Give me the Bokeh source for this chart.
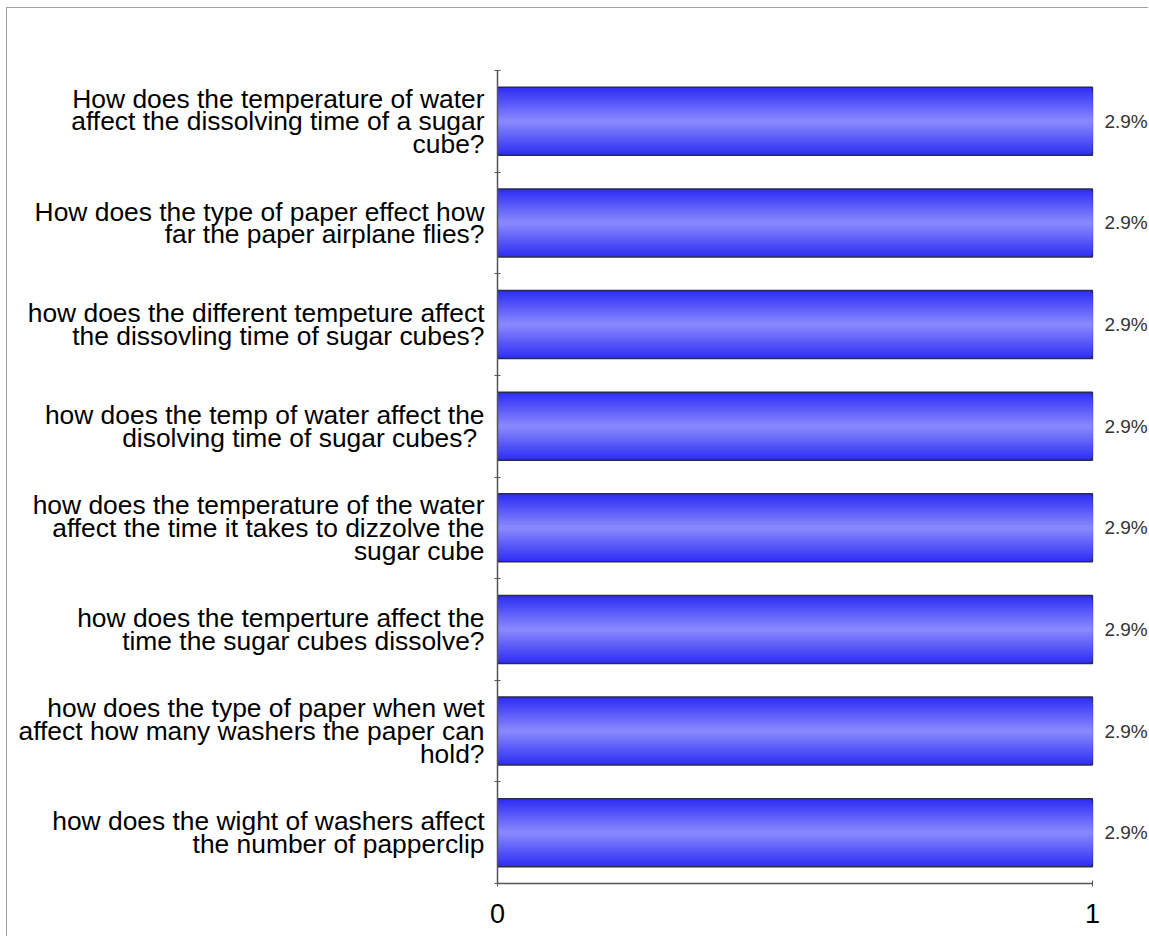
from bokeh.plotting import figure
from bokeh.models import (Range1d, LinearAxis, FixedTicker, ColumnDataSource)
from bokeh.core.properties import value
from bokeh.embed import file_html
from bokeh.resources import INLINE

questions = [
    "How does the temperature of water\naffect the dissolving time of a sugar\ncube?",
    "How does the type of paper effect how\nfar the paper airplane flies?",
    "how does the different tempeture affect\nthe dissovling time of sugar cubes?",
    "how does the temp of water affect the\ndisolving time of  sugar cubes?",
    "how does the temperature of the water\naffect the time it takes to dizzolve the\nsugar cube",
    "how does the temperture affect the\ntime the sugar cubes dissolve?",
    "how does the type of paper when wet\naffect how many washers the paper can\nhold?",
    "how does the wight of washers affect\nthe number of papperclip",
]
counts = [1, 1, 1, 1, 1, 1, 1, 1]
percent_labels = ["2.9%", "2.9%", "2.9%", "2.9%", "2.9%", "2.9%", "2.9%", "2.9%"]
x_ticks = [0, 1]

FONT = "Liberation Sans"
N = len(questions)
# category slot positions (first question on top)
slots = [N - i - 0.5 for i in range(N)]
edges = list(range(N + 1))

src = ColumnDataSource(data=dict(y=slots, q=questions, n=counts, pct=percent_labels))

p = figure(
    width=1142, height=929,
    x_range=Range1d(0, 651 / 594),
    y_range=Range1d(0, N),
    x_axis_location=None, y_axis_location=None,
    output_backend="svg", toolbar_location=None,
    min_border_left=490, min_border_top=62, min_border_bottom=54, min_border_right=0,
)
p.styles = {"border-top": "1px solid #a0a0a0", "border-left": "1px solid #a0a0a0",
            "margin-left": "6px", "margin-top": "7px"}
p.outline_line_color = None
p.grid.visible = False

# Boundary ticks axis (closest to frame)
edge_axis = LinearAxis(ticker=FixedTicker(ticks=edges))
edge_axis.major_label_overrides = {e: "" for e in edges}
edge_axis.major_label_standoff = 0
edge_axis.major_tick_in = 3
edge_axis.major_tick_out = 3
edge_axis.minor_tick_line_color = None
edge_axis.axis_line_color = "#555555"
edge_axis.major_tick_line_color = "#555555"
edge_axis.axis_line_width = 1.5
p.add_layout(edge_axis, "left")

cat_axis = LinearAxis(ticker=FixedTicker(ticks=slots))
cat_axis.major_label_overrides = {s: q for s, q in zip(slots, questions)}
cat_axis.axis_line_color = None
cat_axis.major_tick_line_color = None
cat_axis.minor_tick_line_color = None
cat_axis.major_label_standoff = 4
cat_axis.major_label_text_font = FONT
cat_axis.major_label_text_font_size = "26.4px"
cat_axis.major_label_text_color = "#000000"
cat_axis.major_label_text_line_height = 0.76
p.add_layout(cat_axis, "left")

x_axis = LinearAxis(ticker=FixedTicker(ticks=x_ticks), bounds=(0, 1))
x_axis.major_label_text_font = FONT
x_axis.major_label_text_font_size = "27px"
x_axis.major_label_text_color = "#000000"
x_axis.major_label_standoff = 17
x_axis.major_tick_in = 3
x_axis.major_tick_out = 3
x_axis.minor_tick_line_color = None
x_axis.axis_line_color = "#555555"
x_axis.major_tick_line_color = "#555555"
x_axis.axis_line_width = 1.5
p.add_layout(x_axis, "below")

# Bars with a vertical gradient (dark edges, light centre) via nested layers
bar_h = 0.67
edge_rgb = (0x30, 0x30, 0xf4)
mid_rgb = (0x8c, 0x8c, 0xff)
layers = 16
p.hbar(y="y", right="n", left=0, height=bar_h, source=src,
       fill_color="#3030f4", line_color="#2a2a50", line_width=1.5)
for k in range(1, layers):
    t = k / layers
    c = tuple(int(round(e + (m - e) * t)) for e, m in zip(edge_rgb, mid_rgb))
    h = (bar_h - 0.02) * (1 - t) + 0.01
    p.hbar(y="y", right="n", left=0, height=h, source=src,
           fill_color="#%02x%02x%02x" % c, line_color=None)

p.text(x="n", y="y", text="pct", source=src, x_offset=12,
       text_align="left", text_baseline="middle",
       text_font=value(FONT), text_font_size="19px", text_color="#333333")

open("out.html", "w").write(file_html(p, INLINE))
